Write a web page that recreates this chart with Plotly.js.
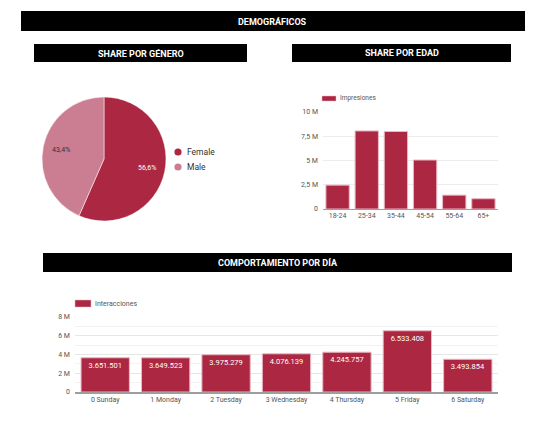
<!DOCTYPE html>
<html><head><meta charset="utf-8">
<script src="https://cdn.plot.ly/plotly-3.0.1.min.js"></script>
<style>html,body{margin:0;padding:0;background:#fff;}#chart{width:539px;height:425px;}</style>
</head><body><div id="chart"></div>
<script>
// ---- data ----
const genderLabels = ["Female", "Male"];
const genderShare = [56.6, 43.4];
const ageSeriesName = "Impresiones";
const ageGroups = ["18-24", "25-34", "35-44", "45-54", "55-64", "65+"];
const impressions = [2460000, 8050000, 7990000, 5050000, 1430000, 1060000];
const ageTickVals = [0, 2500000, 5000000, 7500000, 10000000];
const ageTickText = ["0", "2,5 M", "5 M", "7,5 M", "10 M"];
const daySeriesName = "Interacciones";
const days = ["0 Sunday", "1 Monday", "2 Tuesday", "3 Wednesday", "4 Thursday", "5 Friday", "6 Saturday"];
const interactions = [3651501, 3649523, 3975279, 4076139, 4245757, 6533408, 3493854];
const dayTickVals = [0, 2000000, 4000000, 6000000, 8000000];
const dayTickText = ["0", "2 M", "4 M", "6 M", "8 M"];
const headers = ["DEMOGRÁFICOS", "SHARE POR GÉNERO", "SHARE POR EDAD", "COMPORTAMIENTO POR DÍA"];

// ---- style ----
const W = 539, H = 425;
const red = "#AC2741", pink = "#CB7D92", edge = "#E9B9C4";
const genderColors = [red, pink];
const genderTextColors = ["#fff", "#333"];
const px = x => x / W, py = y => 1 - y / H;
const font = "Roboto, 'Noto Sans', sans-serif";

const shapes = [], annotations = [];
const headerBoxes = [[21, 11, 525, 31], [34, 44, 247, 62], [292, 44, 511, 62], [43, 253, 512, 272]];
headerBoxes.forEach((b, i) => {
  shapes.push({type: "rect", xref: "paper", yref: "paper",
    x0: px(b[0]), x1: px(b[2]), y0: py(b[3]), y1: py(b[1]),
    fillcolor: "#000", line: {width: 0}, layer: "below"});
  annotations.push({xref: "paper", yref: "paper",
    x: px((b[0] + b[2]) / 2), y: py((b[1] + b[3]) / 2), xanchor: "center", yanchor: "middle",
    text: "<b>" + headers[i] + "</b>", showarrow: false, font: {family: font, size: 9, color: "#fff"}});
});

// pie geometry (pixels)
const pieCx = 104, pieCy = 159, pieR = 61;
// pie percentage labels placed along each slice's mid-angle
const total = genderShare.reduce((a, b) => a + b, 0);
let cum = 0;
genderShare.forEach((v, i) => {
  const mid = (cum + v / 2) / total * 2 * Math.PI; cum += v;
  const x = pieCx + 0.72 * pieR * Math.sin(mid), y = pieCy - 0.72 * pieR * Math.cos(mid);
  annotations.push({xref: "paper", yref: "paper", x: px(x), y: py(y), xanchor: "center", yanchor: "middle",
    showarrow: false, text: (v / total * 100).toFixed(1).replace(".", ",") + "%",
    font: {family: font, size: 7, color: genderTextColors[i]}});
});

// custom legends
genderLabels.forEach((lab, i) => {
  const cx = 178, cy = 152 + 15 * i, r = 3.6;
  shapes.push({type: "circle", xref: "paper", yref: "paper", x0: px(cx - r), x1: px(cx + r),
    y0: py(cy + r), y1: py(cy - r), fillcolor: genderColors[i], line: {width: 0}});
  annotations.push({xref: "paper", yref: "paper", x: px(184.5), y: py(cy), xanchor: "left", yanchor: "middle",
    showarrow: false, text: lab, font: {family: font, size: 8.5, color: "#333"}});
});
[[ageSeriesName, 322, 96, 336, 101, 6.5], [daySeriesName, 75, 300, 91, 307, 7]].forEach(l => {
  shapes.push({type: "rect", xref: "paper", yref: "paper", x0: px(l[1]), x1: px(l[3]), y0: py(l[4]), y1: py(l[2]),
    fillcolor: red, line: {color: edge, width: 0.5}});
  annotations.push({xref: "paper", yref: "paper", x: px(l[3] + 1.5), y: py((l[2] + l[4]) / 2), xanchor: "left", yanchor: "middle",
    showarrow: false, text: l[0], font: {family: font, size: l[5], color: "#555"}});
});

const traces = [
  {type: "pie", labels: genderLabels, values: genderShare, sort: false, direction: "clockwise", rotation: 0,
   marker: {colors: genderColors, line: {color: "#fff", width: 0.5}},
   domain: {x: [px(pieCx - pieR - 1), px(pieCx + pieR + 1)], y: [py(pieCy + pieR + 1), py(pieCy - pieR - 1)]},
   textinfo: "none", showlegend: false, hoverinfo: "label+percent"},
  {type: "bar", x: ageGroups, y: impressions, name: ageSeriesName, xaxis: "x", yaxis: "y",
   marker: {color: red, line: {color: edge, width: 1}}, showlegend: false},
  {type: "bar", x: days, y: interactions, name: daySeriesName, xaxis: "x2", yaxis: "y2",
   marker: {color: red, line: {color: edge, width: 1}}, showlegend: false,
   texttemplate: "%{y:,.0f}", textposition: "inside", insidetextanchor: "end", textangle: 0,
   textfont: {family: font, size: 7.5, color: "#fff"}, cliponaxis: false}
];

const axFont = {family: font, size: 7, color: "#555"};
const layout = {
  width: W, height: H, margin: {l: 0, r: 0, t: 0, b: 0},
  paper_bgcolor: "#fff", plot_bgcolor: "#fff", separators: ",.",
  font: {family: font}, bargap: 0.2, shapes: shapes, annotations: annotations, showlegend: false,
  xaxis: {domain: [px(323), px(498)], type: "category", tickfont: axFont, showgrid: false,
    showline: true, linecolor: "#9e9e9e", linewidth: 1, ticks: "", fixedrange: true},
  yaxis: {domain: [py(209), py(112)], range: [0, 10000000], tickvals: ageTickVals, ticktext: ageTickText,
    tickfont: axFont, gridcolor: "#ececec", zeroline: false, ticks: "", ticklabelstandoff: 4, fixedrange: true},
  xaxis2: {domain: [px(75), px(498)], type: "category", anchor: "y2", tickfont: axFont, showgrid: false,
    showline: true, linecolor: "#9e9e9e", linewidth: 1.5, ticks: "", fixedrange: true},
  yaxis2: {domain: [py(392), py(317)], anchor: "x2", range: [0, 8000000], tickvals: dayTickVals, ticktext: dayTickText,
    tickfont: axFont, gridcolor: "#e6e6e6", zeroline: false, ticks: "", ticklabelstandoff: 4, fixedrange: true,
    minor: {dtick: 1000000, showgrid: true, gridcolor: "#f2f2f2"}}
};
Plotly.newPlot("chart", traces, layout, {displayModeBar: false, staticPlot: true});
</script></body></html>
